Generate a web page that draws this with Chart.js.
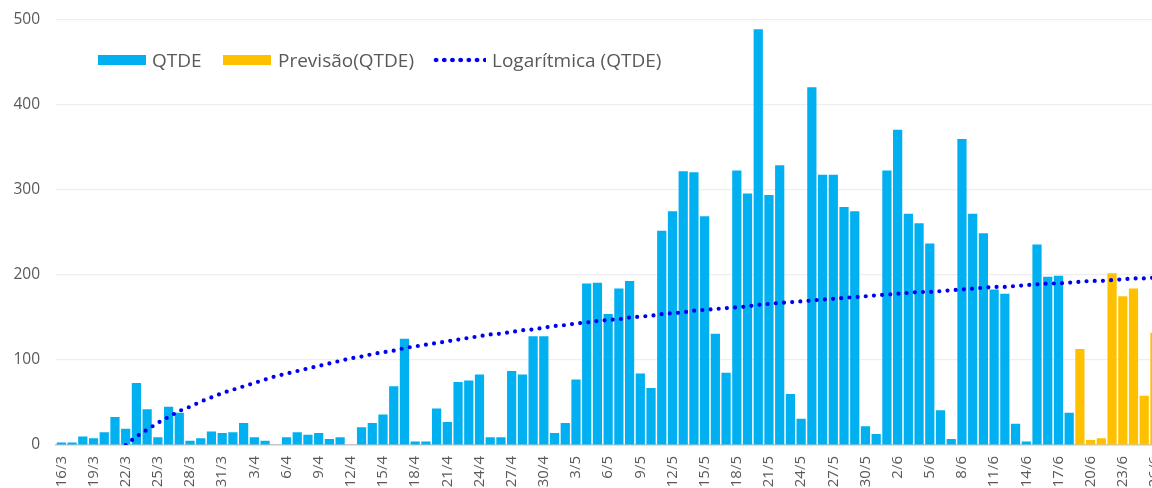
<!DOCTYPE html>
<html lang="pt">
<head>
  <meta charset="UTF-8"/>
  <title>QTDE</title>
  <script src="https://cdn.jsdelivr.net/npm/chart.js"></script>
  <style>
    html, body { margin: 0; padding: 0; background: #ffffff; overflow: hidden; }
    body { width: 1152px; height: 488px; position: relative; font-family: 'Open Sans', sans-serif; }
    #chart { position: absolute; left: 0; top: 0; }
    .lg { position: absolute; color: #595959; font-size: 19px; line-height: 22px; white-space: nowrap; }
    .box { position: absolute; width: 48px; height: 10px; }
    .dots { position: absolute; width: 54px; height: 6px;
      background: radial-gradient(circle, #0000f0 2px, rgba(0,0,255,0) 2.6px) repeat-x;
      background-size: 8.2px 6px; }
  </style>
</head>
<body>

<canvas id="chart" width="1184" height="500"></canvas>

<div class="box" style="left:98px; top:55px; background:#00b0f0;"></div>
<div class="lg" style="left:152px; top:49px;">QTDE</div>
<div class="box" style="left:223px; top:55px; background:#ffc000;"></div>
<div class="lg" style="left:278px; top:49px;">Previsão(QTDE)</div>
<div class="dots" style="left:432px; top:57px;"></div>
<div class="lg" style="left:492px; top:49px;">Logarítmica (QTDE)</div>

<script>
const dias = [
  '16/3','17/3','18/3','19/3','20/3','21/3','22/3','23/3','24/3','25/3','26/3','27/3','28/3','29/3','30/3','31/3',
  '1/4','2/4','3/4','4/4','5/4','6/4','7/4','8/4','9/4','10/4','11/4','12/4','13/4','14/4','15/4',
  '16/4','17/4','18/4','19/4','20/4','21/4','22/4','23/4','24/4','25/4','26/4','27/4','28/4','29/4','30/4',
  '1/5','2/5','3/5','4/5','5/5','6/5','7/5','8/5','9/5','10/5','11/5','12/5','13/5','14/5','15/5','16/5',
  '17/5','18/5','19/5','20/5','21/5','22/5','23/5','24/5','25/5','26/5','27/5','28/5','29/5','30/5','31/5',
  '1/6','2/6','3/6','4/6','5/6','6/6','7/6','8/6','9/6','10/6','11/6','12/6','13/6','14/6','15/6',
  '16/6','17/6','18/6','19/6','20/6','21/6','22/6','23/6','24/6','25/6','26/6'
];

// valores observados 16/3 .. 18/6
const qtde = [
  3, 3, 10, 8, 15, 33, 19, 73, 42, 9, 45, 38, 5, 8, 16, 14,
  15, 26, 9, 5, 0, 9, 15, 12, 14, 7, 9, 0, 21, 26, 36,
  69, 125, 4, 4, 43, 27, 74, 76, 83, 9, 9, 87, 83, 128, 128,
  14, 26, 77, 190, 191, 154, 184, 193, 84, 67, 252, 275, 322, 321, 269, 131,
  85, 323, 296, 489, 294, 329, 60, 31, 421, 318, 318, 280, 275, 22, 13,
  323, 371, 272, 261, 237, 41, 7, 360, 272, 249, 183, 178, 25, 4, 236,
  198, 199, 38
];

// previsão 19/6 .. 26/6
const previsaoDias = ['19/6','20/6','21/6','22/6','23/6','24/6','25/6','26/6'];
const previsao = [113, 6, 8, 202, 175, 184, 58, 132];

const tendenciaInicio = '22/3';
const tendencia = [
  0, 10, 18, 26, 33, 40, 45, 51, 56, 61,
  65, 69, 73, 77, 81, 84, 87, 90, 93, 96,
  99, 102, 104, 107, 109, 111, 114, 116, 118, 120,
  122, 124, 126, 128, 130, 131, 133, 135, 136, 138,
  140, 141, 143, 144, 146, 147, 148, 150, 151, 152,
  154, 155, 156, 158, 159, 160, 161, 162, 163, 165,
  166, 167, 168, 169, 170, 171, 172, 173, 174, 175,
  176, 177, 178, 179, 180, 180, 181, 182, 183, 184,
  185, 186, 186, 187, 188, 189, 190, 190, 191, 192,
  193, 193, 194, 195, 196, 196, 197
];

const yTicks = [0, 100, 200, 300, 400, 500];

const tInicio = dias.indexOf(tendenciaInicio);
const tendenciaPts = tendencia.map((v, i) => ({ x: dias[tInicio + i], y: v }));
const previsaoPts = previsao.map((v, i) => ({ x: previsaoDias[i], y: v }));

const cinza = '#595959';

new Chart(document.getElementById('chart'), {
  type: 'bar',
  data: {
    labels: dias,
    datasets: [
      {
        type: 'line',
        label: 'Logarítmica (QTDE)',
        data: tendenciaPts,
        borderColor: '#0000f0',
        borderWidth: 4.2,
        borderDash: [0, 8.2],
        borderCapStyle: 'round',
        pointRadius: 0,
        tension: 0,
        fill: false,
        order: 0
      },
      {
        label: 'QTDE',
        data: qtde,
        backgroundColor: '#00b0f0',
        grouped: false,
        barPercentage: 0.86,
        categoryPercentage: 1,
        order: 1
      },
      {
        label: 'Previsão(QTDE)',
        data: previsaoPts,
        backgroundColor: '#ffc000',
        grouped: false,
        barPercentage: 0.86,
        categoryPercentage: 1,
        order: 1
      }
    ]
  },
  options: {
    responsive: false,
    animation: false,
    layout: { padding: { top: 20, right: 12, left: 0, bottom: 0 } },
    plugins: {
      legend: { display: false },
      tooltip: { enabled: false }
    },
    scales: {
      x: {
        grid: { display: false, drawTicks: false },
        border: { display: true, color: '#c8c8c8', width: 1.5 },
        ticks: {
          autoSkip: false,
          minRotation: 90,
          maxRotation: 90,
          padding: 11,
          color: cinza,
          font: { family: 'Open Sans', size: 15 },
          callback: function (val, idx) { return idx % 3 === 0 ? dias[idx] : ''; }
        },
        afterFit: function (scale) { scale.height = 55; }
      },
      y: {
        min: 0,
        max: 500,
        afterBuildTicks: function (scale) { scale.ticks = yTicks.map(v => ({ value: v })); },
        grid: { color: '#eeeeee', lineWidth: 1.2, drawTicks: false },
        border: { display: false },
        ticks: {
          padding: 16,
          color: cinza,
          font: { family: 'Open Sans', size: 15.5 }
        },
        afterFit: function (scale) {
          scale.width = 56;
          scale.paddingTop = 0;
          scale.paddingBottom = 0;
        }
      }
    }
  }
});
</script>
</body>
</html>
